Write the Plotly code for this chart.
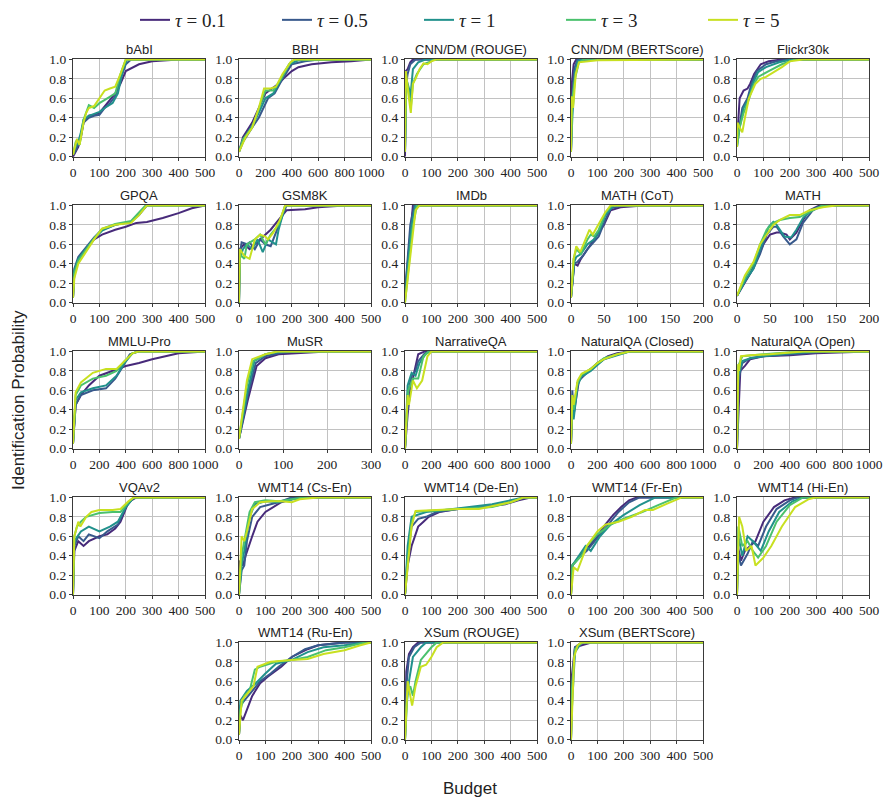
import plotly.graph_objects as go

# ---------------- data ----------------
TAUS = ["0.1", "0.5", "1", "3", "5"]
COLORS = ["#472a7a", "#38598c", "#21918c", "#4ac16d", "#c8e020"]

TITLES = ["bAbI", "BBH", "CNN/DM (ROUGE)", "CNN/DM (BERTScore)", "Flickr30k",
          "GPQA", "GSM8K", "IMDb", "MATH (CoT)", "MATH",
          "MMLU-Pro", "MuSR", "NarrativeQA", "NaturalQA (Closed)", "NaturalQA (Open)",
          "VQAv2", "WMT14 (Cs-En)", "WMT14 (De-En)", "WMT14 (Fr-En)", "WMT14 (Hi-En)",
          "WMT14 (Ru-En)", "XSum (ROUGE)", "XSum (BERTScore)"]
XMAX = [500, 1000, 500, 500, 500,
        500, 500, 500, 200, 200,
        1000, 300, 1000, 1000, 1000,
        500, 500, 500, 500, 500,
        500, 500, 500]
XDTICK = [100, 200, 100, 100, 100,
          100, 100, 100, 50, 50,
          200, 100, 200, 200, 200,
          100, 100, 100, 100, 100,
          100, 100, 100]

babi_budget = [
    [0, 10, 20, 30, 40, 60, 80, 100, 130, 160, 180, 200, 250, 300, 400, 500],
    [0, 10, 20, 30, 40, 60, 80, 100, 120, 140, 160, 180, 200, 220, 500],
    [0, 10, 20, 30, 40, 60, 80, 100, 120, 150, 170, 190, 205, 500],
    [0, 10, 15, 25, 40, 60, 80, 100, 130, 160, 180, 200, 500],
    [0, 10, 15, 25, 40, 50, 60, 80, 100, 120, 140, 160, 180, 200, 500]]
babi_prob = [
    [0.0, 0.05, 0.1, 0.2, 0.35, 0.42, 0.43, 0.45, 0.55, 0.65, 0.75, 0.88, 0.95, 0.98, 1.0, 1.0],
    [0.02, 0.06, 0.12, 0.22, 0.35, 0.4, 0.42, 0.43, 0.5, 0.55, 0.62, 0.8, 0.95, 1.0, 1.0],
    [0.02, 0.1, 0.15, 0.25, 0.38, 0.42, 0.44, 0.46, 0.5, 0.55, 0.65, 0.9, 1.0, 1.0],
    [0.02, 0.15, 0.17, 0.12, 0.38, 0.53, 0.5, 0.55, 0.6, 0.65, 0.85, 1.0, 1.0],
    [0.02, 0.15, 0.18, 0.12, 0.35, 0.45, 0.5, 0.52, 0.6, 0.68, 0.7, 0.72, 0.85, 1.0, 1.0]]

bbh_budget = [
    [0, 30, 100, 150, 200, 250, 300, 350, 400, 450, 550, 700, 850, 1000],
    [0, 30, 100, 150, 220, 270, 330, 400, 500, 600, 1000],
    [0, 30, 100, 150, 200, 260, 320, 380, 450, 1000],
    [0, 30, 100, 150, 200, 260, 320, 380, 420, 1000],
    [0, 50, 100, 150, 190, 240, 280, 330, 390, 420, 1000]]
bbh_prob = [
    [0.05, 0.2, 0.35, 0.5, 0.65, 0.7, 0.75, 0.82, 0.88, 0.92, 0.95, 0.97, 0.98, 1.0],
    [0.05, 0.15, 0.3, 0.4, 0.6, 0.65, 0.8, 0.95, 0.98, 1.0, 1.0],
    [0.05, 0.17, 0.32, 0.45, 0.6, 0.65, 0.8, 0.95, 0.99, 1.0],
    [0.05, 0.18, 0.3, 0.5, 0.68, 0.68, 0.8, 0.95, 1.0, 1.0],
    [0.05, 0.2, 0.3, 0.5, 0.7, 0.7, 0.72, 0.85, 0.97, 1.0, 1.0]]

cnn_rouge_budget = [
    [0, 3, 10, 20, 30, 500],
    [0, 5, 10, 20, 40, 500],
    [0, 5, 15, 20, 30, 50, 80, 500],
    [0, 5, 15, 22, 30, 45, 70, 90, 110, 500],
    [0, 3, 15, 22, 30, 40, 55, 70, 85, 100, 120, 500]]
cnn_rouge_prob = [
    [0.0, 0.88, 0.9, 0.97, 1.0, 1.0],
    [0.05, 0.75, 0.85, 0.95, 1.0, 1.0],
    [0.05, 0.8, 0.7, 0.6, 0.9, 0.97, 1.0, 1.0],
    [0.05, 0.8, 0.65, 0.5, 0.75, 0.85, 0.95, 0.97, 1.0, 1.0],
    [0.05, 0.88, 0.6, 0.45, 0.75, 0.8, 0.9, 0.96, 0.95, 0.98, 1.0, 1.0]]

cnn_bert_budget = [
    [0, 3, 10, 20, 500],
    [0, 5, 12, 25, 500],
    [0, 5, 15, 25, 40, 500],
    [0, 5, 15, 30, 50, 500],
    [0, 3, 8, 18, 30, 60, 100, 500]]
cnn_bert_prob = [
    [0.05, 0.75, 0.95, 1.0, 1.0],
    [0.05, 0.6, 0.9, 1.0, 1.0],
    [0.05, 0.4, 0.85, 0.98, 1.0, 1.0],
    [0.05, 0.6, 0.8, 0.97, 1.0, 1.0],
    [0.05, 0.62, 0.5, 0.85, 0.97, 0.98, 0.99, 1.0]]

flickr_budget = [
    [0, 5, 10, 25, 40, 50, 65, 90, 120, 170, 500],
    [0, 10, 20, 40, 55, 75, 110, 150, 200, 500],
    [0, 10, 25, 45, 60, 80, 110, 160, 210, 500],
    [0, 10, 25, 40, 60, 80, 120, 170, 220, 500],
    [0, 2, 10, 20, 30, 45, 70, 90, 110, 140, 170, 200, 250, 500]]
flickr_prob = [
    [0.15, 0.37, 0.6, 0.68, 0.7, 0.75, 0.85, 0.95, 0.98, 1.0, 1.0],
    [0.15, 0.35, 0.5, 0.6, 0.75, 0.88, 0.95, 0.98, 1.0, 1.0],
    [0.1, 0.3, 0.5, 0.6, 0.75, 0.87, 0.92, 0.97, 1.0, 1.0],
    [0.1, 0.3, 0.45, 0.55, 0.72, 0.82, 0.88, 0.95, 1.0, 1.0],
    [0.1, 0.35, 0.3, 0.25, 0.4, 0.6, 0.75, 0.8, 0.82, 0.87, 0.92, 0.98, 1.0, 1.0]]

gpqa_budget = [
    [0, 5, 20, 50, 80, 110, 160, 200, 240, 280, 340, 400, 450, 500],
    [0, 5, 20, 50, 80, 110, 160, 220, 250, 280, 500],
    [0, 5, 20, 50, 80, 110, 160, 220, 250, 280, 500],
    [0, 5, 20, 50, 80, 110, 160, 220, 250, 275, 500],
    [0, 5, 20, 50, 80, 110, 160, 220, 250, 280, 500]]
gpqa_prob = [
    [0.05, 0.3, 0.45, 0.55, 0.65, 0.7, 0.75, 0.78, 0.82, 0.83, 0.87, 0.92, 0.97, 1.0],
    [0.05, 0.35, 0.47, 0.57, 0.67, 0.75, 0.8, 0.83, 0.9, 1.0, 1.0],
    [0.05, 0.33, 0.45, 0.55, 0.66, 0.74, 0.8, 0.83, 0.92, 1.0, 1.0],
    [0.05, 0.3, 0.43, 0.55, 0.66, 0.76, 0.81, 0.84, 0.93, 1.0, 1.0],
    [0.05, 0.25, 0.4, 0.53, 0.65, 0.76, 0.8, 0.82, 0.9, 1.0, 1.0]]

gsm_budget = [
    [0, 3, 20, 40, 60, 80, 100, 120, 150, 180, 250, 300, 400, 500],
    [0, 3, 10, 30, 40, 60, 80, 100, 120, 150, 180, 500],
    [0, 3, 15, 30, 50, 70, 90, 110, 140, 150, 175, 500],
    [0, 3, 20, 30, 60, 80, 100, 120, 150, 175, 500],
    [0, 3, 20, 40, 60, 80, 100, 110, 130, 155, 175, 500]]
gsm_prob = [
    [0.0, 0.55, 0.6, 0.55, 0.6, 0.65, 0.7, 0.75, 0.85, 0.95, 0.96, 0.98, 1.0, 1.0],
    [0.0, 0.5, 0.62, 0.6, 0.62, 0.55, 0.65, 0.6, 0.58, 0.8, 1.0, 1.0],
    [0.0, 0.45, 0.55, 0.6, 0.55, 0.65, 0.52, 0.65, 0.6, 0.75, 1.0, 1.0],
    [0.0, 0.5, 0.45, 0.6, 0.65, 0.7, 0.6, 0.7, 0.8, 1.0, 1.0],
    [0.0, 0.55, 0.48, 0.45, 0.65, 0.7, 0.68, 0.65, 0.72, 0.85, 1.0, 1.0]]

imdb_budget = [
    [0, 30, 500],
    [0, 20, 35, 500],
    [0, 25, 40, 500],
    [0, 28, 45, 500],
    [0, 20, 40, 55, 500]]
imdb_prob = [
    [0.1, 1.0, 1.0],
    [0.1, 0.8, 1.0, 1.0],
    [0.05, 0.8, 1.0, 1.0],
    [0.0, 0.75, 1.0, 1.0],
    [0.0, 0.5, 0.95, 1.0, 1.0]]

mathcot_budget = [
    [0, 5, 10, 15, 20, 30, 35, 45, 50, 60, 75, 110, 200],
    [0, 5, 10, 18, 25, 35, 42, 52, 60, 80, 200],
    [0, 5, 8, 15, 25, 35, 42, 52, 65, 200],
    [0, 4, 8, 15, 25, 30, 35, 42, 52, 62, 200],
    [0, 4, 8, 14, 22, 28, 33, 40, 52, 60, 200]]
mathcot_prob = [
    [0.05, 0.4, 0.38, 0.45, 0.5, 0.6, 0.65, 0.75, 0.8, 0.95, 0.98, 1.0, 1.0],
    [0.05, 0.4, 0.42, 0.48, 0.55, 0.62, 0.68, 0.85, 0.97, 1.0, 1.0],
    [0.05, 0.42, 0.47, 0.5, 0.6, 0.65, 0.72, 0.9, 1.0, 1.0],
    [0.05, 0.45, 0.55, 0.5, 0.65, 0.7, 0.68, 0.75, 0.92, 1.0, 1.0],
    [0.05, 0.45, 0.58, 0.52, 0.65, 0.75, 0.7, 0.78, 0.93, 1.0, 1.0]]

math_budget = [
    [0, 12, 20, 30, 40, 50, 60, 65, 75, 80, 90, 100, 110, 125, 200],
    [0, 12, 25, 35, 45, 55, 60, 70, 80, 90, 100, 115, 130, 200],
    [0, 12, 25, 35, 48, 55, 60, 72, 82, 90, 100, 115, 130, 200],
    [0, 12, 25, 35, 45, 55, 65, 80, 95, 110, 130, 200],
    [0, 12, 25, 35, 45, 55, 65, 80, 95, 110, 130, 150, 200]]
math_prob = [
    [0.07, 0.2, 0.3, 0.45, 0.6, 0.7, 0.72, 0.72, 0.7, 0.65, 0.72, 0.85, 0.95, 1.0, 1.0],
    [0.07, 0.22, 0.35, 0.5, 0.7, 0.78, 0.78, 0.68, 0.6, 0.65, 0.82, 0.95, 1.0, 1.0],
    [0.07, 0.22, 0.35, 0.55, 0.78, 0.83, 0.8, 0.68, 0.67, 0.75, 0.87, 0.96, 1.0, 1.0],
    [0.07, 0.25, 0.4, 0.6, 0.75, 0.82, 0.85, 0.87, 0.88, 0.93, 1.0, 1.0],
    [0.07, 0.28, 0.42, 0.6, 0.7, 0.8, 0.85, 0.9, 0.9, 0.95, 0.98, 1.0, 1.0]]

mmlu_budget = [
    [0, 20, 60, 120, 200, 300, 400, 500, 600, 700, 800, 1000],
    [0, 20, 60, 150, 250, 320, 380, 430, 500, 1000],
    [0, 20, 60, 150, 250, 330, 390, 450, 500, 1000],
    [0, 20, 60, 150, 250, 330, 390, 450, 500, 1000],
    [0, 20, 60, 150, 250, 330, 390, 450, 500, 1000]]
mmlu_prob = [
    [0.05, 0.45, 0.55, 0.65, 0.75, 0.8, 0.85, 0.88, 0.92, 0.95, 0.98, 1.0],
    [0.05, 0.45, 0.55, 0.6, 0.62, 0.72, 0.85, 0.97, 1.0, 1.0],
    [0.05, 0.5, 0.58, 0.62, 0.65, 0.75, 0.88, 0.98, 1.0, 1.0],
    [0.05, 0.55, 0.65, 0.72, 0.75, 0.8, 0.9, 0.98, 1.0, 1.0],
    [0.05, 0.58, 0.68, 0.78, 0.82, 0.82, 0.9, 0.98, 1.0, 1.0]]

musr_budget = [
    [0, 20, 40, 60, 90, 150, 200, 300],
    [0, 20, 38, 60, 90, 130, 300],
    [0, 20, 35, 60, 100, 300],
    [0, 18, 32, 60, 90, 300],
    [0, 18, 30, 60, 90, 300]]
musr_prob = [
    [0.1, 0.5, 0.85, 0.93, 0.97, 0.99, 1.0, 1.0],
    [0.1, 0.55, 0.88, 0.95, 0.98, 1.0, 1.0],
    [0.1, 0.6, 0.9, 0.97, 1.0, 1.0],
    [0.1, 0.65, 0.9, 0.97, 1.0, 1.0],
    [0.1, 0.7, 0.92, 0.97, 1.0, 1.0]]

narr_budget = [
    [0, 20, 40, 70, 100, 150, 1000],
    [0, 20, 50, 80, 100, 150, 200, 1000],
    [0, 20, 50, 80, 110, 160, 200, 1000],
    [0, 25, 60, 100, 140, 180, 1000],
    [0, 20, 30, 60, 90, 130, 170, 200, 1000]]
narr_prob = [
    [0.0, 0.35, 0.6, 0.8, 0.97, 1.0, 1.0],
    [0.0, 0.55, 0.75, 0.8, 0.9, 0.98, 1.0, 1.0],
    [0.0, 0.65, 0.78, 0.75, 0.88, 0.98, 1.0, 1.0],
    [0.0, 0.6, 0.72, 0.72, 0.95, 1.0, 1.0],
    [0.0, 0.55, 0.45, 0.7, 0.62, 0.7, 0.95, 1.0, 1.0]]

nqc_budget = [
    [0, 10, 20, 60, 120, 200, 280, 350, 450, 1000],
    [0, 10, 20, 50, 80, 150, 200, 250, 350, 450, 1000],
    [0, 10, 20, 50, 80, 150, 200, 250, 350, 450, 1000],
    [0, 10, 20, 50, 80, 150, 200, 250, 350, 450, 1000],
    [0, 10, 20, 50, 80, 150, 200, 250, 350, 450, 1000]]
nqc_prob = [
    [0.05, 0.4, 0.35, 0.7, 0.78, 0.88, 0.95, 0.98, 1.0, 1.0],
    [0.05, 0.6, 0.35, 0.68, 0.75, 0.82, 0.87, 0.92, 0.97, 1.0, 1.0],
    [0.05, 0.55, 0.3, 0.65, 0.74, 0.8, 0.86, 0.92, 0.96, 1.0, 1.0],
    [0.05, 0.5, 0.4, 0.68, 0.76, 0.82, 0.88, 0.93, 0.97, 1.0, 1.0],
    [0.05, 0.55, 0.45, 0.7, 0.77, 0.82, 0.88, 0.92, 0.97, 1.0, 1.0]]

nqo_budget = [
    [0, 10, 25, 60, 100, 200, 400, 600, 900, 1000],
    [0, 10, 40, 100, 200, 400, 700, 1000],
    [0, 10, 40, 100, 200, 400, 600, 1000],
    [0, 10, 40, 100, 200, 400, 600, 1000],
    [0, 10, 15, 30, 100, 250, 500, 1000]]
nqo_prob = [
    [0.0, 0.35, 0.8, 0.85, 0.92, 0.95, 0.96, 0.98, 1.0, 1.0],
    [0.0, 0.7, 0.88, 0.93, 0.95, 0.97, 1.0, 1.0],
    [0.0, 0.75, 0.9, 0.93, 0.95, 0.98, 1.0, 1.0],
    [0.0, 0.85, 0.95, 0.96, 0.97, 0.99, 1.0, 1.0],
    [0.0, 0.87, 0.8, 0.95, 0.96, 0.97, 1.0, 1.0]]

vqa_budget = [
    [0, 5, 20, 40, 60, 100, 130, 160, 180, 210, 240, 500],
    [0, 5, 20, 40, 60, 100, 130, 170, 200, 230, 500],
    [0, 5, 30, 60, 100, 140, 170, 200, 230, 500],
    [0, 5, 15, 30, 50, 100, 150, 180, 210, 230, 500],
    [0, 5, 20, 28, 50, 70, 100, 150, 180, 210, 230, 500]]
vqa_prob = [
    [0.0, 0.45, 0.55, 0.5, 0.55, 0.6, 0.62, 0.68, 0.75, 0.95, 1.0, 1.0],
    [0.0, 0.5, 0.6, 0.55, 0.62, 0.58, 0.65, 0.72, 0.9, 1.0, 1.0],
    [0.0, 0.55, 0.65, 0.7, 0.65, 0.7, 0.75, 0.9, 1.0, 1.0],
    [0.0, 0.6, 0.7, 0.75, 0.8, 0.84, 0.85, 0.85, 0.95, 1.0, 1.0],
    [0.0, 0.6, 0.75, 0.7, 0.8, 0.85, 0.87, 0.87, 0.88, 0.96, 1.0, 1.0]]

cs_budget = [
    [0, 3, 15, 25, 50, 70, 100, 130, 160, 200, 250, 500],
    [0, 10, 20, 30, 50, 80, 120, 150, 200, 500],
    [0, 10, 20, 40, 60, 100, 150, 200, 250, 500],
    [0, 10, 20, 40, 60, 100, 150, 200, 250, 500],
    [0, 10, 20, 30, 50, 80, 120, 160, 200, 230, 300, 500]]
cs_prob = [
    [0.0, 0.35, 0.3, 0.4, 0.6, 0.75, 0.85, 0.9, 0.95, 0.98, 1.0, 1.0],
    [0.0, 0.25, 0.3, 0.55, 0.8, 0.9, 0.93, 0.95, 1.0, 1.0],
    [0.0, 0.3, 0.45, 0.8, 0.93, 0.96, 0.95, 0.98, 1.0, 1.0],
    [0.0, 0.4, 0.55, 0.85, 0.95, 0.97, 0.96, 0.98, 1.0, 1.0],
    [0.0, 0.6, 0.55, 0.65, 0.88, 0.95, 0.96, 0.96, 0.95, 0.98, 1.0, 1.0]]

de_budget = [
    [0, 10, 25, 50, 70, 90, 130, 200, 300, 380, 430, 480, 500],
    [0, 10, 25, 50, 80, 120, 200, 300, 380, 430, 460, 500],
    [0, 10, 25, 50, 80, 150, 250, 330, 400, 450, 500],
    [0, 10, 25, 40, 80, 150, 250, 330, 400, 450, 500],
    [0, 10, 25, 40, 100, 200, 280, 350, 400, 450, 500]]
de_prob = [
    [0.0, 0.3, 0.5, 0.7, 0.75, 0.8, 0.85, 0.88, 0.9, 0.93, 0.97, 1.0, 1.0],
    [0.0, 0.4, 0.7, 0.78, 0.8, 0.85, 0.88, 0.9, 0.94, 0.98, 1.0, 1.0],
    [0.0, 0.5, 0.8, 0.82, 0.85, 0.87, 0.9, 0.93, 0.97, 1.0, 1.0],
    [0.0, 0.35, 0.75, 0.85, 0.86, 0.87, 0.89, 0.9, 0.95, 1.0, 1.0],
    [0.0, 0.3, 0.7, 0.86, 0.87, 0.88, 0.88, 0.92, 0.95, 1.0, 1.0]]

fr_budget = [
    [0, 5, 20, 40, 70, 100, 130, 160, 190, 220, 250, 500],
    [0, 5, 30, 60, 90, 120, 150, 180, 220, 260, 500],
    [0, 5, 30, 55, 75, 110, 150, 200, 260, 300, 320, 500],
    [0, 5, 40, 60, 100, 150, 200, 270, 330, 380, 400, 500],
    [0, 10, 25, 40, 60, 100, 130, 180, 230, 280, 310, 360, 420, 500]]
fr_prob = [
    [0.0, 0.3, 0.35, 0.42, 0.5, 0.6, 0.72, 0.82, 0.9, 0.97, 1.0, 1.0],
    [0.0, 0.3, 0.38, 0.45, 0.55, 0.65, 0.75, 0.85, 0.95, 1.0, 1.0],
    [0.0, 0.3, 0.4, 0.5, 0.45, 0.6, 0.72, 0.82, 0.92, 0.97, 1.0, 1.0],
    [0.0, 0.3, 0.4, 0.5, 0.62, 0.72, 0.78, 0.85, 0.92, 0.98, 1.0, 1.0],
    [0.0, 0.28, 0.25, 0.35, 0.5, 0.65, 0.72, 0.75, 0.8, 0.87, 0.87, 0.93, 1.0, 1.0]]

hi_budget = [
    [0, 3, 15, 30, 50, 70, 100, 140, 180, 220, 500],
    [0, 3, 15, 40, 60, 80, 110, 150, 200, 230, 500],
    [0, 5, 20, 40, 60, 90, 120, 160, 210, 250, 500],
    [0, 5, 20, 40, 60, 80, 110, 150, 200, 250, 500],
    [0, 8, 20, 35, 55, 70, 100, 130, 170, 220, 270, 300, 500]]
hi_prob = [
    [0.0, 0.5, 0.35, 0.45, 0.5, 0.55, 0.75, 0.9, 0.97, 1.0, 1.0],
    [0.0, 0.45, 0.3, 0.42, 0.55, 0.5, 0.7, 0.88, 0.97, 1.0, 1.0],
    [0.0, 0.6, 0.4, 0.6, 0.55, 0.45, 0.65, 0.85, 0.96, 1.0, 1.0],
    [0.0, 0.7, 0.5, 0.55, 0.45, 0.38, 0.5, 0.75, 0.92, 1.0, 1.0],
    [0.0, 0.8, 0.7, 0.45, 0.5, 0.3, 0.38, 0.5, 0.7, 0.9, 0.98, 1.0, 1.0]]

ru_budget = [
    [0, 5, 15, 30, 50, 80, 110, 160, 200, 260, 300, 400, 500],
    [0, 5, 20, 50, 80, 120, 150, 200, 250, 300, 400, 500],
    [0, 5, 30, 60, 100, 140, 200, 260, 320, 400, 480, 500],
    [0, 5, 20, 40, 60, 80, 140, 200, 260, 330, 400, 480, 500],
    [0, 10, 40, 55, 70, 120, 200, 260, 320, 400, 460, 500]]
ru_prob = [
    [0.05, 0.25, 0.2, 0.3, 0.45, 0.58, 0.65, 0.75, 0.85, 0.93, 0.97, 1.0, 1.0],
    [0.05, 0.35, 0.4, 0.5, 0.6, 0.68, 0.75, 0.85, 0.93, 0.97, 1.0, 1.0],
    [0.05, 0.4, 0.5, 0.57, 0.68, 0.78, 0.82, 0.9, 0.95, 0.97, 1.0, 1.0],
    [0.05, 0.3, 0.45, 0.5, 0.72, 0.75, 0.8, 0.82, 0.85, 0.92, 0.95, 1.0, 1.0],
    [0.05, 0.4, 0.5, 0.55, 0.75, 0.8, 0.82, 0.83, 0.88, 0.92, 0.97, 1.0]]

xsr_budget = [
    [0, 5, 15, 30, 50, 500],
    [0, 5, 15, 35, 60, 500],
    [0, 5, 15, 30, 60, 80, 500],
    [0, 10, 20, 30, 40, 60, 100, 120, 500],
    [0, 10, 20, 27, 40, 60, 80, 100, 120, 145, 500]]
xsr_prob = [
    [0.0, 0.7, 0.88, 0.95, 1.0, 1.0],
    [0.0, 0.55, 0.85, 0.95, 1.0, 1.0],
    [0.0, 0.35, 0.6, 0.85, 0.95, 1.0, 1.0],
    [0.0, 0.5, 0.55, 0.45, 0.6, 0.82, 0.95, 1.0, 1.0],
    [0.0, 0.6, 0.45, 0.35, 0.55, 0.75, 0.77, 0.85, 0.95, 1.0, 1.0]]

xsb_budget = [
    [0, 3, 15, 30, 50, 80, 500],
    [0, 3, 15, 40, 500],
    [0, 3, 15, 40, 500],
    [0, 3, 15, 40, 500],
    [0, 3, 12, 25, 40, 500]]
xsb_prob = [
    [0.0, 0.65, 0.95, 0.96, 0.98, 1.0, 1.0],
    [0.0, 0.5, 0.95, 1.0, 1.0],
    [0.0, 0.3, 0.9, 1.0, 1.0],
    [0.0, 0.5, 0.93, 1.0, 1.0],
    [0.0, 0.2, 0.85, 0.97, 1.0, 1.0]]

BUDGETS = [babi_budget, bbh_budget, cnn_rouge_budget, cnn_bert_budget, flickr_budget,
           gpqa_budget, gsm_budget, imdb_budget, mathcot_budget, math_budget,
           mmlu_budget, musr_budget, narr_budget, nqc_budget, nqo_budget,
           vqa_budget, cs_budget, de_budget, fr_budget, hi_budget,
           ru_budget, xsr_budget, xsb_budget]
PROBS = [babi_prob, bbh_prob, cnn_rouge_prob, cnn_bert_prob, flickr_prob,
         gpqa_prob, gsm_prob, imdb_prob, mathcot_prob, math_prob,
         mmlu_prob, musr_prob, narr_prob, nqc_prob, nqo_prob,
         vqa_prob, cs_prob, de_prob, fr_prob, hi_prob,
         ru_prob, xsr_prob, xsb_prob]

# grid positions (row, col)
POS = [(r, c) for r in range(4) for c in range(5)] + [(4, 1), (4, 2), (4, 3)]

# ---------------- layout geometry (pixels) ----------------
W, H = 886, 806
COL_LEFT = [73, 239, 405, 571, 737]
COL_W = 132
ROW_TOP = [59, 205, 351, 497, 642]
ROW_H = 98

SERIF = "Liberation Serif"
SANS = "Liberation Sans"

fig = go.Figure()
layout = dict(
    template="none",
    width=W, height=H, margin=dict(l=0, r=0, t=0, b=0, autoexpand=False),
    paper_bgcolor="white", plot_bgcolor="white",
    showlegend=True,
    legend=dict(orientation="h", x=135 / W, xanchor="left", y=1 - 1 / H, yanchor="top",
                font=dict(family=SERIF, size=19, color="#222"),
                entrywidth=97, entrywidthmode="pixels", tracegroupgap=0,
                bgcolor="rgba(0,0,0,0)"),
    annotations=[],
)

for k, (title, xmax, dt, bud, prob, (r, c)) in enumerate(
        zip(TITLES, XMAX, XDTICK, BUDGETS, PROBS, POS), start=1):
    x0 = COL_LEFT[c] / W
    x1 = (COL_LEFT[c] + COL_W) / W
    y1 = 1 - ROW_TOP[r] / H
    y0 = 1 - (ROW_TOP[r] + ROW_H) / H
    xa = "xaxis" if k == 1 else f"xaxis{k}"
    ya = "yaxis" if k == 1 else f"yaxis{k}"
    xr = "x" if k == 1 else f"x{k}"
    yr = "y" if k == 1 else f"y{k}"
    common = dict(showline=True, linecolor="#3a3a3a", linewidth=1.3, mirror=True,
                  showgrid=True, gridcolor="#c2c2c2", gridwidth=1,
                  ticks="outside", ticklen=3, tickwidth=1, tickcolor="#3a3a3a",
                  zeroline=False, layer="below traces", automargin=False,
                  tickangle=0,
                  tickfont=dict(family=SERIF, size=13.5, color="#222"))
    layout[xa] = dict(domain=[x0, x1], anchor=yr, range=[0, xmax],
                      tickmode="linear", tick0=0, dtick=dt, **common)
    layout[ya] = dict(domain=[y0, y1], anchor=xr, range=[-0.004, 1.004],
                      tickmode="array", tickvals=[0, 0.2, 0.4, 0.6, 0.8, 1.0],
                      ticktext=["0.0", "0.2", "0.4", "0.6", "0.8", "1.0"], **common)
    for i in range(5):
        fig.add_trace(go.Scatter(
            x=bud[i], y=prob[i], mode="lines", xaxis=xr, yaxis=yr,
            line=dict(color=COLORS[i], width=2),
            name=f"<i>τ</i> = {TAUS[i]}", legendgroup=TAUS[i],
            showlegend=(k == 1), hoverinfo="skip"))
    layout["annotations"].append(dict(
        text=title, x=(x0 + x1) / 2, y=y1, xref="paper", yref="paper",
        xanchor="center", yanchor="bottom", yshift=0, showarrow=False,
        font=dict(family=SANS, size=13, color="#222")))

layout["annotations"].append(dict(
    text="Identification Probability", x=18 / W, y=1 - 400 / H, xref="paper", yref="paper",
    xanchor="center", yanchor="middle", textangle=-90, showarrow=False,
    font=dict(family=SANS, size=17, color="#222")))
layout["annotations"].append(dict(
    text="Budget", x=470 / W, y=1 - 788 / H, xref="paper", yref="paper",
    xanchor="center", yanchor="middle", showarrow=False,
    font=dict(family=SANS, size=17, color="#222")))

fig.update_layout(**layout)
fig.write_html("out.html")
